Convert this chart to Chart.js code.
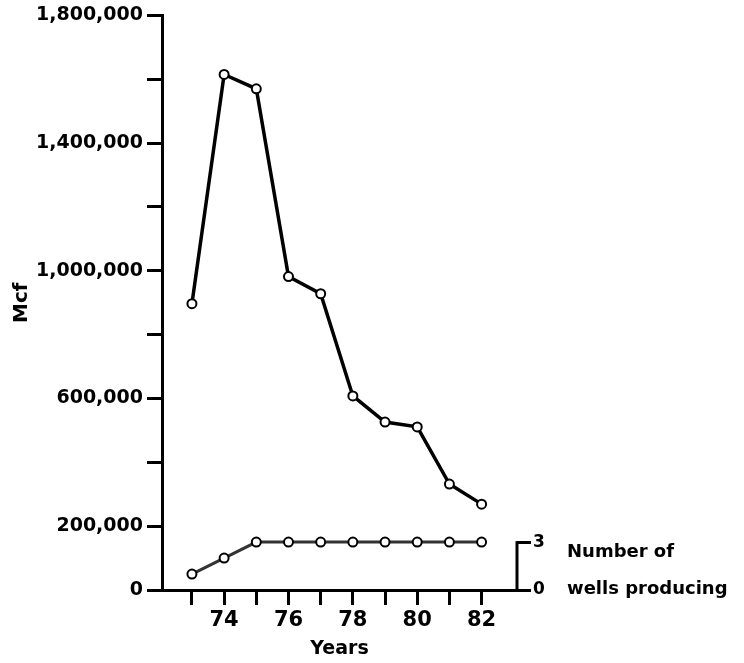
<!DOCTYPE html>
<html>
<head>
<meta charset="utf-8">
<script src="https://cdn.jsdelivr.net/npm/chart.js@4"></script>
<style>
html,body{margin:0;padding:0;background:#fff;}
#wrap{width:744px;height:663px;position:relative;}
</style>
</head>
<body>
<div id="wrap"><canvas id="c"></canvas></div>
<script>
// ---- data ----
const years = [73, 74, 75, 76, 77, 78, 79, 80, 81, 82];
const gasMcf = [897000, 1615000, 1570000, 982000, 928000, 608000, 526000, 511000, 332000, 269000];
const wellsProducing = [1, 2, 3, 3, 3, 3, 3, 3, 3, 3];
const xLabeledYears = [74, 76, 78, 80, 82];
const yLabeledValues = [0, 200000, 600000, 1000000, 1400000, 1800000];
const wellsTicks = [0, 3];
const rightLabelLines = ['Number of', 'wells producing'];

const FONT = 'DejaVu Sans';

const miniAxis = {
  id: 'miniAxis',
  afterDraw(chart) {
    const ctx = chart.ctx;
    const y2 = chart.scales.y2;
    const x = chart.chartArea.right;
    ctx.save();
    ctx.strokeStyle = '#000';
    ctx.lineWidth = 3;
    ctx.beginPath();
    ctx.moveTo(x, y2.getPixelForValue(wellsTicks[0]) + 1);
    ctx.lineTo(x, y2.getPixelForValue(wellsTicks[1]) - 1);
    ctx.stroke();
    ctx.fillStyle = '#000';
    ctx.font = 'bold 18px "' + FONT + '"';
    ctx.textAlign = 'left';
    ctx.textBaseline = 'alphabetic';
    ctx.fillText(rightLabelLines[0], 567, 557);
    ctx.fillText(rightLabelLines[1], 567, 594);
    ctx.restore();
  }
};

new Chart(document.getElementById('c'), {
  type: 'line',
  data: {
    datasets: [
      {
        label: 'Mcf',
        data: years.map((x, i) => ({ x: x, y: gasMcf[i] })),
        yAxisID: 'y',
        borderColor: '#000',
        borderWidth: 3.5,
        pointRadius: 4.5,
        pointBorderWidth: 2,
        pointBackgroundColor: '#fff',
        pointBorderColor: '#000',
        tension: 0,
        clip: false
      },
      {
        label: 'Number of wells producing',
        data: years.map((x, i) => ({ x: x, y: wellsProducing[i] })),
        yAxisID: 'y2',
        borderColor: '#333',
        borderWidth: 3,
        pointRadius: 4.5,
        pointBorderWidth: 2,
        pointBackgroundColor: '#fff',
        pointBorderColor: '#000',
        tension: 0,
        clip: false
      }
    ]
  },
  options: {
    responsive: true,
    maintainAspectRatio: false,
    animation: false,
    layout: { padding: { left: 0, top: 15, right: 0, bottom: 0 } },
    plugins: {
      legend: { display: false },
      tooltip: { enabled: false }
    },
    scales: {
      x: {
        type: 'linear',
        min: 72.07,
        max: 83.1,
        afterBuildTicks: (s) => { s.ticks = years.map(v => ({ value: v })); },
        afterFit: (s) => { s.height = 73; },
        border: { display: true, color: '#000', width: 3 },
        grid: { drawOnChartArea: false, drawTicks: true, tickLength: 15, color: '#000', tickColor: '#000', lineWidth: 3, tickWidth: 3 },
        ticks: {
          color: '#000',
          font: { family: FONT, size: 21, weight: 'bold' },
          padding: 3,
          maxRotation: 0,
          autoSkip: false,
          callback: (v) => xLabeledYears.includes(v) ? String(v) : ''
        },
        title: {
          display: true,
          text: 'Years',
          color: '#000',
          font: { family: FONT, size: 19, weight: 'bold' },
          padding: { top: 0, bottom: 3 }
        }
      },
      y: {
        type: 'linear',
        position: 'left',
        min: 0,
        max: 1800000,
        afterBuildTicks: (s) => {
          const t = [];
          for (let v = 0; v <= 1800000; v += 200000) t.push({ value: v });
          s.ticks = t;
        },
        afterFit: (s) => { s.width = 162; },
        border: { display: true, color: '#000', width: 3 },
        grid: { drawOnChartArea: false, drawTicks: true, tickLength: 15, color: '#000', tickColor: '#000', lineWidth: 3, tickWidth: 3 },
        ticks: {
          color: '#000',
          font: { family: FONT, size: 19, weight: 'bold' },
          padding: 4,
          autoSkip: false,
          callback: (v) => yLabeledValues.includes(v) ? v.toLocaleString('en-US') : ''
        },
        title: {
          display: true,
          text: 'Mcf',
          color: '#000',
          font: { family: FONT, size: 20, weight: 'bold' },
          padding: { top: 10, bottom: 0 }
        }
      },
      y2: {
        type: 'linear',
        position: 'right',
        min: 0,
        max: 36,
        afterBuildTicks: (s) => { s.ticks = wellsTicks.map(v => ({ value: v })); },
        afterFit: (s) => { s.width = 227; },
        border: { display: false },
        grid: { drawOnChartArea: false, drawTicks: true, tickLength: 14, color: '#000', tickColor: '#000', lineWidth: 3, tickWidth: 3 },
        ticks: {
          color: '#000',
          font: { family: FONT, size: 17, weight: 'bold' },
          padding: 2,
          autoSkip: false,
          callback: (v) => String(v)
        }
      }
    }
  },
  plugins: [miniAxis]
});
</script>
</body>
</html>
